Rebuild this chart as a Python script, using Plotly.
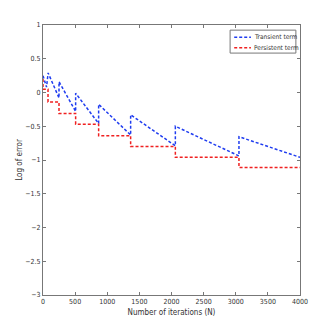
import plotly.graph_objects as go

# Transient term (blue saw-tooth)
transient_n = [0, 55, 80, 249, 249, 508, 508, 866, 866, 1364, 1364, 2060, 2060, 3050, 3050, 4000]
transient_log = [0.25, 0.08, 0.29, -0.08, 0.16, -0.28, -0.01, -0.46, -0.175, -0.63, -0.33, -0.79, -0.50, -0.94, -0.655, -0.96]

# Persistent term (red staircase)
persistent_n = [0, 0, 78, 78, 249, 249, 508, 508, 866, 866, 1364, 1364, 2060, 2060, 3050, 3050, 4000]
persistent_log = [0.2, 0.05, 0.05, -0.14, -0.14, -0.31, -0.31, -0.47, -0.47, -0.64, -0.64, -0.80, -0.80, -0.96, -0.96, -1.11, -1.11]

x_ticks = [0, 500, 1000, 1500, 2000, 2500, 3000, 3500, 4000]
y_ticks = [1, 0.5, 0, -0.5, -1, -1.5, -2, -2.5, -3]

BLUE = "#1f3cf0"
RED = "#f02020"
DASH = "3px,2px"
FONT = "DejaVu Sans Condensed, Liberation Sans Narrow, Liberation Sans, sans-serif"

fig = go.Figure()
fig.add_trace(go.Scatter(
    x=transient_n, y=transient_log, mode="lines", name="Transient term",
    line=dict(color=BLUE, width=1.5, dash=DASH),
))
fig.add_trace(go.Scatter(
    x=persistent_n, y=persistent_log, mode="lines", name="Persistent term",
    line=dict(color=RED, width=1.5, dash=DASH),
))

axis_common = dict(
    showgrid=False, zeroline=False, showline=True, mirror="ticks",
    linecolor="#777", linewidth=1, ticks="inside", ticklen=3,
    tickcolor="#777", tickfont=dict(size=7, color="#333"), automargin=False,
)

# compact MATLAB-style legend box (plotly's own legend rows are too tall)
legend_box = dict(type="rect", xref="paper", yref="paper", x0=0.728, x1=0.984, y0=0.896, y1=0.981,
                  line=dict(color="#777", width=1), fillcolor="white", layer="above")
legend_rows = [("Transient term", BLUE, 0.955), ("Persistent term", RED, 0.916)]
shapes = [legend_box]
annotations = []
for label, color, yy in legend_rows:
    shapes.append(dict(type="line", xref="paper", yref="paper", x0=0.744, x1=0.809, y0=yy, y1=yy,
                       line=dict(color=color, width=1.5, dash=DASH), layer="above"))
    annotations.append(dict(text=label, xref="paper", yref="paper", x=0.815, y=yy,
                            xanchor="left", yanchor="middle", showarrow=False,
                            font=dict(size=6.5, color="#333", family=FONT)))

# page body has an 8px margin, so the figure is shrunk by that much
fig.update_layout(
    width=324, height=324,
    margin=dict(l=35, r=32, t=17, b=37),
    paper_bgcolor="white", plot_bgcolor="white",
    font=dict(family=FONT, size=8, color="#333"),
    xaxis=dict(range=[0, 4000], tickvals=x_ticks,
               title=dict(text="Number of iterations (N)", font=dict(size=8), standoff=3),
               **axis_common),
    yaxis=dict(range=[-3, 1], tickvals=y_ticks,
               title=dict(text="Log of error", font=dict(size=8), standoff=1),
               **axis_common),
    showlegend=False,
    shapes=shapes,
    annotations=annotations,
)

fig.write_html("out.html")
